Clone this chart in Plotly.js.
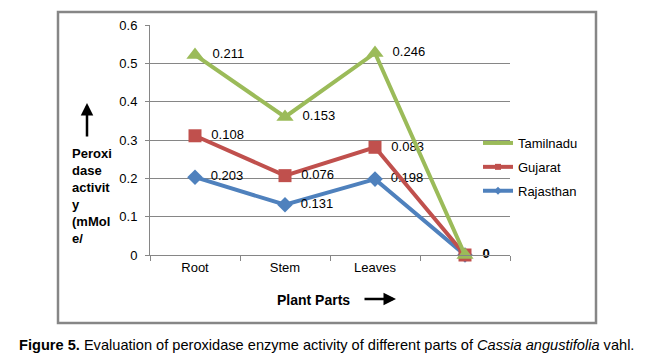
<!DOCTYPE html>
<html>
<head>
<meta charset="utf-8">
<script src="https://cdn.plot.ly/plotly-3.0.1.min.js"></script>
<style>html,body{margin:0;padding:0;background:#fff;}#chart{width:670px;height:360px;}</style>
</head>
<body>
<div id="chart"></div>
<script>
// Categories (4th is an unlabeled blank category in the original)
const categories = ['Root', 'Stem', 'Leaves', ' '];
// Series values (stacked line chart: each label shows the series' own value)
const rajasthan = [0.203, 0.131, 0.198, 0];
const gujarat   = [0.108, 0.076, 0.083, 0];
const tamilnadu = [0.211, 0.153, 0.246, 0];
const seriesNames = ['Rajasthan', 'Gujarat', 'Tamilnadu'];
const yTicks = [0, 0.1, 0.2, 0.3, 0.4, 0.5, 0.6];
const yTickText = ['0', '0.1', '0.2', '0.3', '0.4', '0.5', '0.6'];

const W = 670, H = 360;
const px = v => v / W;
const py = v => 1 - v / H;
const PAD = '\u00a0\u00a0';

// Zero labels overlap at the last category; only the top series shows it (bold).
function labels(vals, isTop){
  return vals.map(v => v === 0 ? (isTop ? PAD + '<b>0</b>' : '') : PAD + String(v));
}

function mk(name, vals, color, symbol, size, isTop){
  return {
    type: 'scatter', mode: 'lines+markers+text',
    name: name, x: categories, y: vals,
    stackgroup: 'one', fill: 'none', showlegend: false,
    line: {color: color, width: 4},
    marker: {color: color, symbol: symbol, size: size},
    text: labels(vals, isTop), textposition: 'middle right',
    textfont: {family: 'Liberation Sans, Arial, sans-serif', size: 13, color: '#000'},
    hoverinfo: 'skip', cliponaxis: false
  };
}
function legendEntry(name, color, symbol, grp){
  return {
    type: 'scatter', mode: 'lines+markers', name: name,
    x: [null], y: [null], legendgroup: grp, showlegend: true,
    line: {color: color, width: 4},
    marker: {color: color, symbol: symbol, size: 6},
    hoverinfo: 'skip'
  };
}

const data = [
  mk(seriesNames[0], rajasthan, '#4F81BD', 'diamond', 12, false),
  mk(seriesNames[1], gujarat,   '#C0504D', 'square', 13, false),
  mk(seriesNames[2], tamilnadu, '#9BBB59', 'triangle-up', 15, true),
  legendEntry(seriesNames[2], '#9BBB59', 'triangle-up', 'c'),
  legendEntry(seriesNames[1], '#C0504D', 'square', 'b'),
  legendEntry(seriesNames[0], '#4F81BD', 'diamond', 'a')
];

const layout = {
  width: W, height: H,
  margin: {l: 0, r: 0, t: 0, b: 0},
  paper_bgcolor: '#fff', plot_bgcolor: 'rgba(0,0,0,0)',
  font: {family: 'Liberation Sans, Arial, sans-serif', size: 13, color: '#000'},
  showlegend: true,
  legend: {
    x: px(478), y: py(128), xanchor: 'left', yanchor: 'top',
    traceorder: 'grouped', tracegroupgap: 4,
    bgcolor: 'rgba(0,0,0,0)', font: {size: 13, color: '#000'},
    itemwidth: 30
  },
  xaxis: {
    domain: [px(150), px(510)],
    type: 'category', range: [-0.5, 3.5],
    tickson: 'boundaries', ticks: 'outside', ticklen: 5, tickcolor: '#868686',
    showline: true, linecolor: '#868686', linewidth: 1,
    showgrid: false, zeroline: false,
    tickfont: {size: 13, color: '#000'}, fixedrange: true
  },
  yaxis: {
    domain: [1 - 255 / H, 1 - 25 / H],
    range: [0, 0.6], tickvals: yTicks, ticktext: yTickText,
    ticks: 'outside', ticklen: 4, tickcolor: '#868686',
    ticklabelstandoff: 5,
    showline: true, linecolor: '#868686', linewidth: 1,
    showgrid: true, gridcolor: '#868686', gridwidth: 1,
    zeroline: false, tickfont: {size: 13, color: '#000'}, fixedrange: true
  },
  shapes: [
    {type: 'rect', xref: 'paper', yref: 'paper',
     x0: px(58), x1: px(596), y0: py(323), y1: py(12),
     line: {color: '#868686', width: 2.5}, fillcolor: 'rgba(0,0,0,0)'}
  ],
  annotations: [
    {xref: 'paper', yref: 'paper', x: px(70), y: py(196), xanchor: 'left', yanchor: 'middle',
     align: 'left', showarrow: false,
     text: '<b>Peroxi<br>dase<br>activit<br>y<br>(mMol<br>e/</b>',
     font: {family: 'Liberation Sans, Arial, sans-serif', size: 13, color: '#000'}},
    {xref: 'paper', yref: 'paper', x: px(87), y: py(103), ax: 0, ay: 35,
     text: '', showarrow: true,
     arrowhead: 2, arrowsize: 1, arrowwidth: 2.5, arrowcolor: '#000'},
    {xref: 'paper', yref: 'paper', x: px(313), y: py(300), xanchor: 'center', yanchor: 'middle',
     showarrow: false, text: '<b>Plant Parts</b>',
     font: {family: 'Liberation Sans, Arial, sans-serif', size: 14, color: '#000'}},
    {xref: 'paper', yref: 'paper', x: px(396), y: py(299), ax: -33, ay: 0,
     text: '', showarrow: true, arrowhead: 2, arrowsize: 1, arrowwidth: 2.5, arrowcolor: '#000'},
    {xref: 'paper', yref: 'paper', x: px(17), y: py(345), xanchor: 'left', yanchor: 'middle',
     showarrow: false,
     text: '<b>Figure 5.</b> Evaluation of peroxidase enzyme activity of different parts of <i>Cassia angustifolia</i> vahl.',
     font: {family: 'Liberation Sans, Arial, sans-serif', size: 14.6, color: '#000'}}
  ]
};

Plotly.newPlot('chart', data, layout, {displayModeBar: false, staticPlot: true});
</script>
</body>
</html>
